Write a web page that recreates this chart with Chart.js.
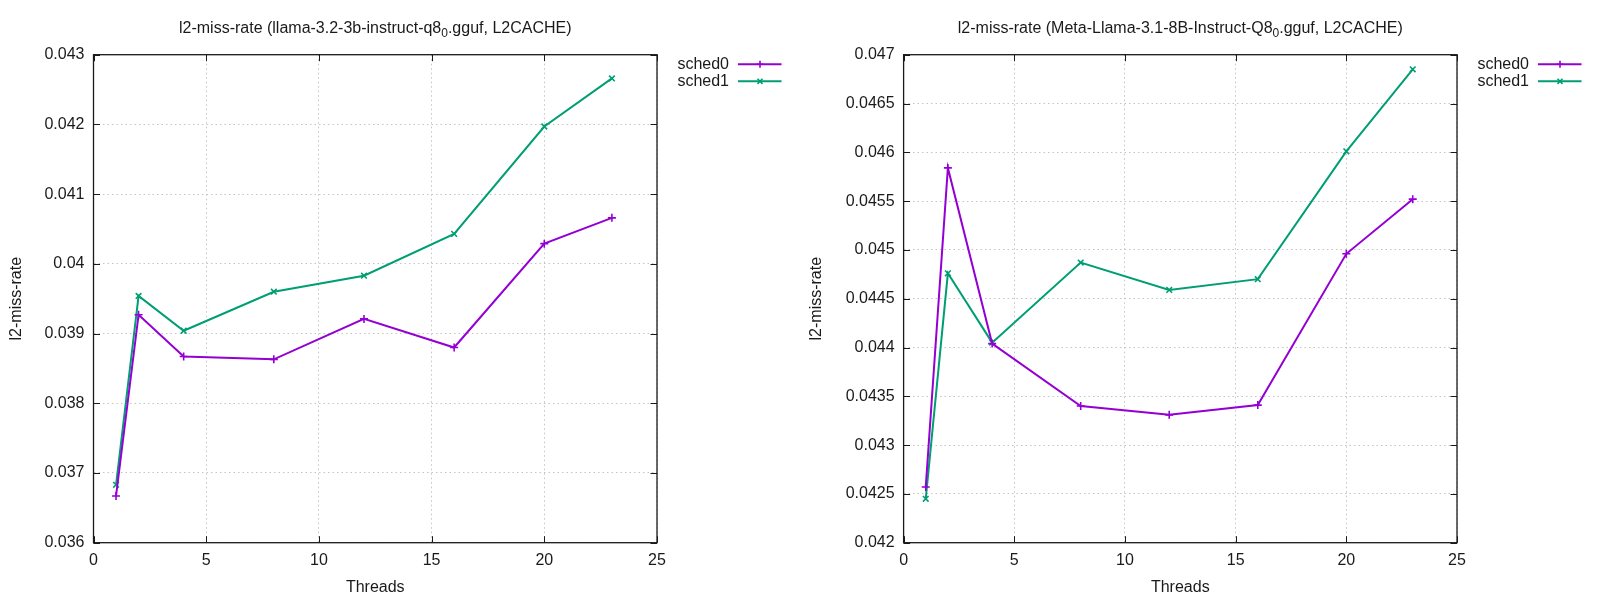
<!DOCTYPE html>
<html>
<head>
<meta charset="utf-8">
<script src="https://cdn.jsdelivr.net/npm/chart.js@4/dist/chart.umd.min.js"></script>
<style>
  html, body { margin: 0; padding: 0; background: #fff; }
  .row { display: flex; width: 1600px; height: 601px; }
  canvas { display: block; }
</style>
</head>
<body>
<div class="row">
  <canvas id="chart-3b" width="800" height="601"></canvas>
  <canvas id="chart-8b" width="800" height="601"></canvas>
</div>
<script>
'use strict';

// data
const threads = [1, 2, 4, 8, 12, 16, 20, 23];
const seriesNames = ['sched0', 'sched1'];

const llama3bSched0 = [0.03667, 0.03927, 0.03867, 0.03863, 0.03921, 0.03880, 0.04029, 0.04066];
const llama3bSched1 = [0.03683, 0.03954, 0.03904, 0.03960, 0.03983, 0.04043, 0.04197, 0.04266];
const llama8bSched0 = [0.04257, 0.04584, 0.04404, 0.04340, 0.04331, 0.04341, 0.04496, 0.04552];
const llama8bSched1 = [0.04245, 0.04476, 0.04405, 0.04487, 0.04459, 0.04470, 0.04601, 0.04685];

const xTicks = [0, 5, 10, 15, 20, 25];
const yTicks3b = [0.036, 0.037, 0.038, 0.039, 0.040, 0.041, 0.042, 0.043];
const yTicks8b = [0.042, 0.0425, 0.043, 0.0435, 0.044, 0.0445, 0.045, 0.0455, 0.046, 0.0465, 0.047];

const title3b = ['l2-miss-rate (llama-3.2-3b-instruct-q8', '0', '.gguf, L2CACHE)'];
const title8b = ['l2-miss-rate (Meta-Llama-3.1-8B-Instruct-Q8', '0', '.gguf, L2CACHE)'];

const COLORS = ['#9400d3', '#009e73'];
const MARKERS = ['cross', 'crossRot'];
const INK = '#1a1a1a';
const GRID = '#c4c4c4';
const FONT = 'Liberation Sans, Arial, sans-serif';
const TICK = 6.5;

function _fmt(v) {
  return String(Number(v.toFixed(5)));
}

function _marker(ctx, style, x, y, r) {
  ctx.beginPath();
  if (style === 'cross') {
    ctx.moveTo(x - r, y); ctx.lineTo(x + r, y);
    ctx.moveTo(x, y - r); ctx.lineTo(x, y + r);
  } else {
    const d = r * 0.72;
    ctx.moveTo(x - d, y - d); ctx.lineTo(x + d, y + d);
    ctx.moveTo(x - d, y + d); ctx.lineTo(x + d, y - d);
  }
  ctx.stroke();
}

// border, mirrored inward ticks, title and key, drawn gnuplot-style
const gnuplotFrame = {
  id: 'gnuplotFrame',
  afterDraw(chart, args, opts) {
    const { ctx, chartArea: a, scales } = chart;
    ctx.save();

    ctx.strokeStyle = INK;
    ctx.lineWidth = 1;
    ctx.beginPath();
    scales.x.ticks.forEach(t => {
      const px = Math.round(scales.x.getPixelForValue(t.value)) + 0.5;
      ctx.moveTo(px, a.bottom); ctx.lineTo(px, a.bottom - TICK);
      ctx.moveTo(px, a.top);    ctx.lineTo(px, a.top + TICK);
    });
    scales.y.ticks.forEach(t => {
      const py = Math.round(scales.y.getPixelForValue(t.value)) + 0.5;
      ctx.moveTo(a.left, py);  ctx.lineTo(a.left + TICK, py);
      ctx.moveTo(a.right, py); ctx.lineTo(a.right - TICK, py);
    });
    ctx.stroke();

    ctx.lineWidth = 1.3;
    ctx.strokeRect(a.left, a.top, a.right - a.left, a.bottom - a.top);

    // title with subscript
    const [pre, sub, post] = opts.title;
    ctx.fillStyle = INK;
    ctx.textBaseline = 'middle';
    ctx.textAlign = 'left';
    ctx.font = '16px ' + FONT;
    const wPre = ctx.measureText(pre).width;
    const wPost = ctx.measureText(post).width;
    ctx.font = '12px ' + FONT;
    const wSub = ctx.measureText(sub).width;
    let x = (a.left + a.right) / 2 - (wPre + wSub + wPost) / 2;
    const ty = 28.5;
    ctx.font = '16px ' + FONT;
    ctx.fillText(pre, x, ty);
    x += wPre;
    ctx.font = '12px ' + FONT;
    ctx.fillText(sub, x, ty + 5);
    x += wSub;
    ctx.font = '16px ' + FONT;
    ctx.fillText(post, x, ty);

    // key
    ctx.textAlign = 'right';
    chart.data.datasets.forEach((ds, i) => {
      const ky = 64.3 + i * 17;
      ctx.fillStyle = INK;
      ctx.fillText(ds.label, 729, ky);
      ctx.strokeStyle = ds.borderColor;
      ctx.lineWidth = 2;
      ctx.beginPath();
      ctx.moveTo(738, ky); ctx.lineTo(781.5, ky);
      ctx.stroke();
      ctx.lineWidth = 1.6;
      _marker(ctx, ds.pointStyle, 760, ky, 3.5);
    });

    ctx.restore();
  }
};

function buildChart(id, title, values, yTicks, yWidth) {
  const datasets = values.map((vals, i) => ({
    label: seriesNames[i],
    data: threads.map((t, j) => ({ x: t, y: vals[j] })),
    borderColor: COLORS[i],
    backgroundColor: COLORS[i],
    borderWidth: 2,
    pointStyle: MARKERS[i],
    pointRadius: 4,
    pointBorderWidth: 1.6,
    pointBorderColor: COLORS[i],
    tension: 0,
    fill: false
  }));

  return new Chart(document.getElementById(id), {
    type: 'line',
    data: { datasets },
    plugins: [gnuplotFrame],
    options: {
      responsive: false,
      animation: false,
      layout: { padding: { left: 0, top: 54.7, right: 143, bottom: 0 } },
      plugins: {
        legend: { display: false },
        title: { display: false },
        tooltip: { enabled: false },
        gnuplotFrame: { title }
      },
      scales: {
        x: {
          type: 'linear',
          min: xTicks[0],
          max: xTicks[xTicks.length - 1],
          afterBuildTicks: s => { s.ticks = xTicks.map(v => ({ value: v })); },
          afterFit: s => { s.height = 58.3; },
          ticks: { color: INK, font: { family: FONT, size: 16 }, padding: 8, maxRotation: 0, callback: v => _fmt(v) },
          grid: { color: GRID, lineWidth: 1, drawTicks: false },
          border: { display: false, dash: [1.5, 3] },
          title: { display: true, text: 'Threads', color: INK, font: { family: FONT, size: 16 }, padding: { top: 0, bottom: 3.7 } }
        },
        y: {
          type: 'linear',
          min: yTicks[0],
          max: yTicks[yTicks.length - 1],
          afterBuildTicks: s => { s.ticks = yTicks.map(v => ({ value: v })); },
          afterFit: s => { s.width = yWidth; },
          ticks: { color: INK, font: { family: FONT, size: 16 }, padding: 9, callback: v => _fmt(v) },
          grid: { color: GRID, lineWidth: 1, drawTicks: false },
          border: { display: false, dash: [1.5, 3] },
          title: { display: true, text: 'l2-miss-rate', color: INK, font: { family: FONT, size: 16 }, padding: { top: 6.5, bottom: 0 } }
        }
      }
    }
  });
}

buildChart('chart-3b', title3b, [llama3bSched0, llama3bSched1], yTicks3b, 93.5);
buildChart('chart-8b', title8b, [llama8bSched0, llama8bSched1], yTicks8b, 103.6);
</script>
</body>
</html>
